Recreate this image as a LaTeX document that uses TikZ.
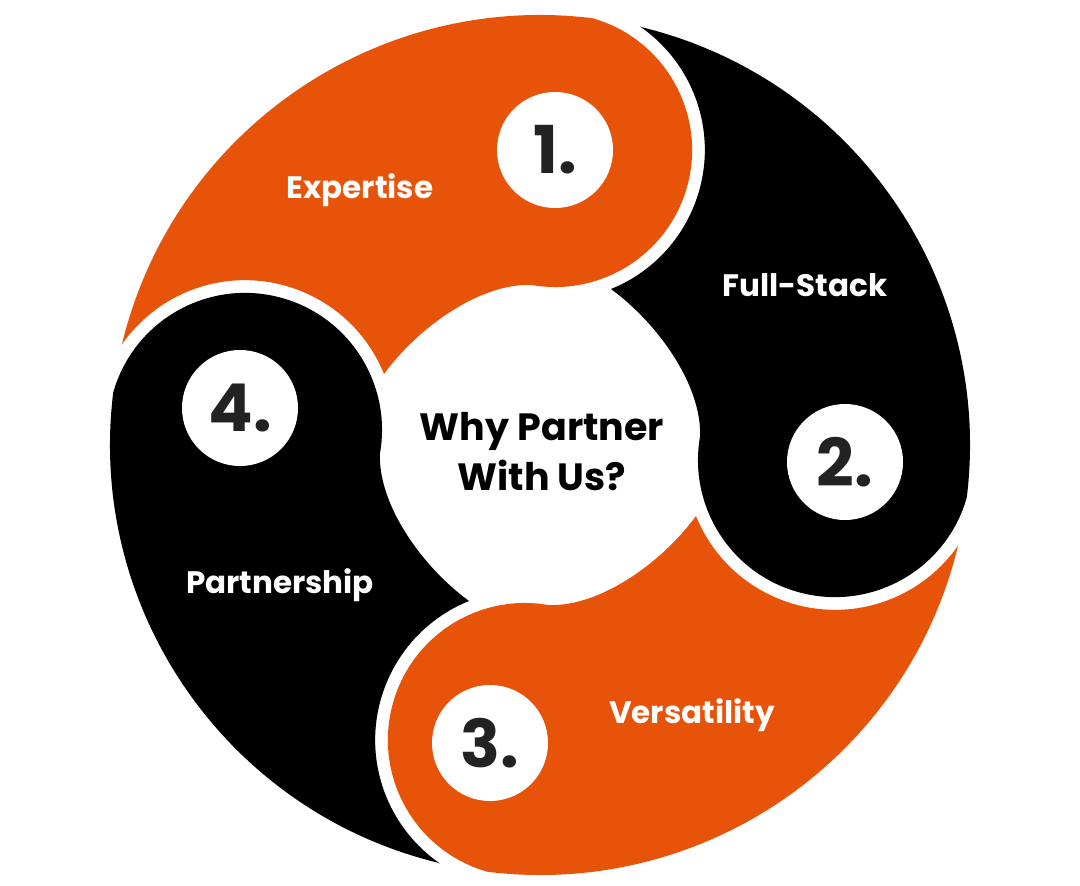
\documentclass[tikz,border=0pt]{standalone}
\usepackage{fontspec}
\setmainfont{Poppins}
\definecolor{org}{HTML}{E8530A}
\definecolor{dk}{HTML}{222222}
\begin{document}
\begin{tikzpicture}[x=1pt,y=-1pt,
  num/.style={circle,fill=white,minimum size=116pt,inner sep=0pt,font=\fontsize{66}{70}\selectfont\bfseries,text=dk},
  lab/.style={font=\fontsize{31}{36}\selectfont\bfseries,text=white}]
\useasboundingbox (0,0) rectangle (1080,886);
\coordinate (C) at (540,445);
\foreach \k/\c in {0/org,1/black,2/org,3/black}{
  \fill[\c,shift={(540,445)},rotate=-90*\k]
    (193.5:430) arc[start angle=193.5,end angle=277,radius=430]
    arc[start angle=285.8,end angle=460,radius=137]
    .. controls (-58,-162) and (-120,-120) .. (-156,-71)
    arc[start angle=338,end angle=214.6,radius=150] -- cycle;
}
\node[num] (n1) at (555,150) {1.};
\node[num] (n2) at (845,462) {2.};
\node[num] (n3) at (490,743) {3.};
\node[num] (n4) at (240,408) {4.};
\node[lab] (l1) at (360,190) {Expertise};
\node[lab] (l2) at (805,285) {Full-Stack};
\node[lab] (l3) at (692,715) {Versatility};
\node[lab] (l4) at (280,585) {Partnership};
\node[font=\fontsize{38}{50}\selectfont\bfseries,text=black,align=center] (c) at (542,452) {Why Partner\\With Us?};
\end{tikzpicture}
\end{document}
